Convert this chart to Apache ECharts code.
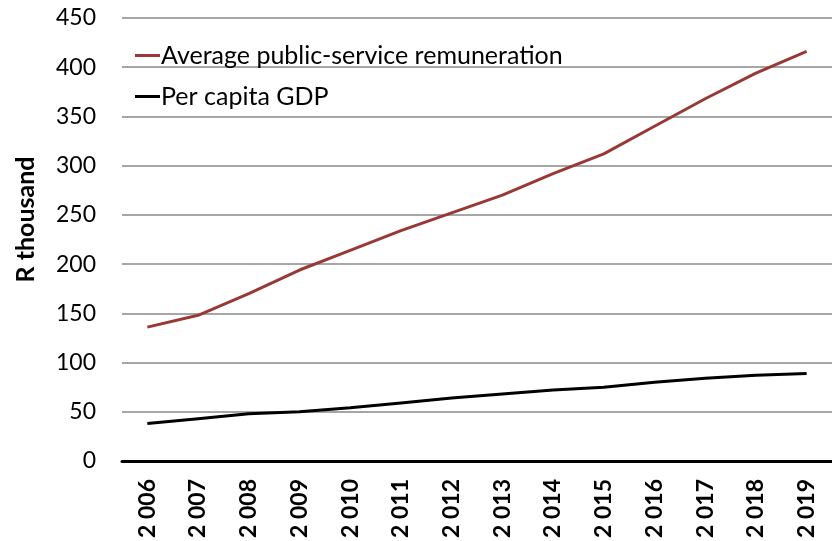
<!DOCTYPE html>
<html>
<head>
<meta charset="utf-8">
<script src="https://cdn.jsdelivr.net/npm/echarts@6/dist/echarts.min.js"></script>
<style>
    html, body { margin: 0; padding: 0; background: #fff; }
    #chart { width: 832px; height: 541px; }
</style>
</head>
<body>
<div id="chart"></div>
<script>
    // years as printed on the axis
    var years = ['2 006', '2 007', '2 008', '2 009', '2 010', '2 011', '2 012',
                 '2 013', '2 014', '2 015', '2 016', '2 017', '2 018', '2 019'];

    // R thousand
    var remuneration = [136, 148, 170, 194, 214, 234, 252, 270, 292, 312, 340, 368, 394, 416];
    var gdpPerCapita = [38, 43, 48, 50, 54, 59, 64, 68, 72, 75, 80, 84, 87, 89];

    var fontFamily = 'Lato, "Open Sans", sans-serif';

    var option = {
        animation: false,
        textStyle: { fontFamily: fontFamily },
        grid: {
            left: 122,
            top: 18,
            width: 714,
            height: 443
        },
        legend: {
            orient: 'vertical',
            left: 130,
            top: 38,
            itemGap: 16,
            itemWidth: 25,
            itemHeight: 3,
            icon: 'rect',
            textStyle: { fontSize: 25, color: '#000', fontFamily: fontFamily, padding: [0, 0, 0, -4] },
            data: ['Average public-service remuneration', 'Per capita GDP']
        },
        xAxis: {
            type: 'category',
            data: years,
            boundaryGap: true,
            axisLine: { lineStyle: { color: '#000', width: 3 } },
            axisTick: { show: false },
            axisLabel: {
                rotate: 90,
                interval: 0,
                margin: 18,
                fontSize: 23,
                fontWeight: 'bold',
                color: '#000',
                fontFamily: fontFamily
            }
        },
        yAxis: {
            type: 'value',
            min: 0,
            max: 450,
            interval: 50,
            name: 'R thousand',
            nameLocation: 'middle',
            nameGap: 84,
            nameTextStyle: {
                fontSize: 25,
                fontWeight: 'bold',
                color: '#000',
                fontFamily: fontFamily,
                padding: [0, 0, 0, 40]
            },
            axisLine: { show: false },
            axisTick: { show: false },
            splitLine: { lineStyle: { color: '#a6a6a6', width: 2 } },
            axisLabel: {
                margin: 26,
                fontSize: 23,
                color: '#000',
                fontFamily: fontFamily
            }
        },
        series: [
            {
                name: 'Average public-service remuneration',
                type: 'line',
                data: remuneration,
                showSymbol: false,
                symbol: 'none',
                color: '#993936',
                lineStyle: { color: '#993936', width: 3 }
            },
            {
                name: 'Per capita GDP',
                type: 'line',
                data: gdpPerCapita,
                showSymbol: false,
                symbol: 'none',
                color: '#000',
                lineStyle: { color: '#000', width: 3 }
            }
        ]
    };

    echarts.init(document.getElementById('chart')).setOption(option);
</script>
</body>
</html>
